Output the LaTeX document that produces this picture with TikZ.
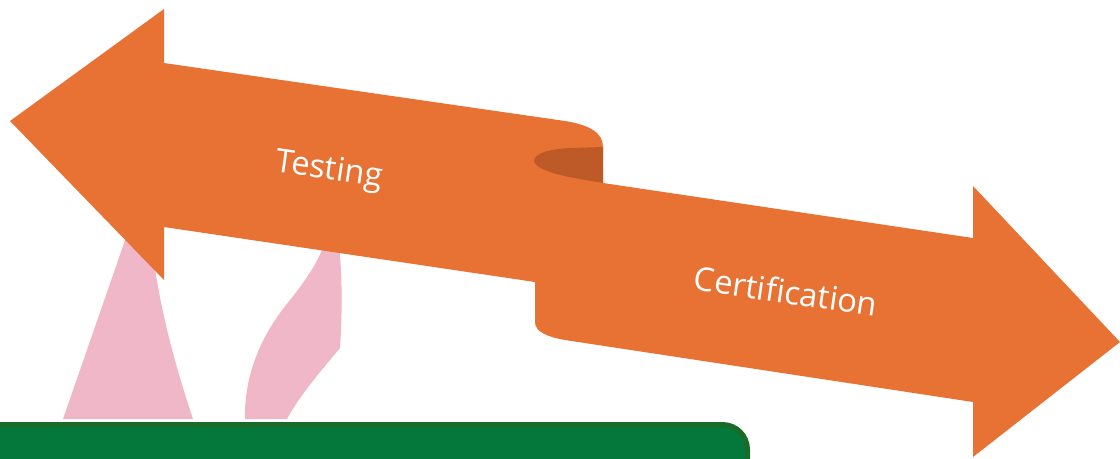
\documentclass[tikz,border=0pt]{standalone}
\usepackage{fontspec}
\setsansfont{Open Sans}
\usetikzlibrary{positioning}
\definecolor{ribbonorange}{HTML}{E87234}
\definecolor{ribbonfold}{HTML}{BE5A27}
\definecolor{petalpink}{HTML}{F0B7C8}
\definecolor{bargreen}{HTML}{04783A}
\definecolor{bargreendark}{HTML}{1B6A2A}
\tikzset{
    ribbon/.style={fill=ribbonorange, draw=none},
    fold/.style={fill=ribbonfold, draw=none},
    petal/.style={fill=petalpink, draw=none},
    banner/.style={fill=bargreen, draw=bargreendark, line width=0.1cm, rounded corners=0.5cm},
    ribbontext/.style={text=white, font=\sffamily\fontsize{18.6}{22}\selectfont, rotate=-8.3}
}
\begin{document}
\begin{tikzpicture}[x=0.02cm, y=-0.02cm]
        \useasboundingbox (0,0) rectangle (1120,458);
        % Pink shapes behind the arrow
        \fill[petal] (63,419) -- (139,200) -- (148,200) .. controls (152,280) and (170,350) .. (193,419) -- cycle;
        \fill[petal] (245,419) .. controls (244,370) and (265,330) .. (290,300) .. controls (310,275) and (322,255) .. (325,240) -- (338,240) .. controls (343,270) and (342,320) .. (340,348) .. controls (320,372) and (300,395) .. (287,419) -- cycle;
        
        % Double arrow ribbon
        \fill[ribbon] (10,121) -- (164,9) -- (164,63) -- (565,121) .. controls (590,125) and (603,133) .. (603,147) -- (603,183) -- (973,238) -- (973,186) -- (1120,342) -- (973,457) -- (973,402) -- (565,340) .. controls (548,337) and (535,332) .. (535,322) -- (535,282) -- (164,227) -- (164,280) -- cycle;
        \fill[fold] (603,147) -- (603,183) -- (580,179) .. controls (555,175) and (534,168) .. (534,161) .. controls (534,153) and (550,149) .. (570,148) -- cycle;
        
        % Labels
        \node[ribbontext] (testing) at (329,171) {Testing};
        \node[ribbontext] (certification) at (786,291) {Certification};
        
        % Green bar
        \filldraw[banner] (-30,424.5) rectangle (747.5,490);
\end{tikzpicture}
\end{document}
